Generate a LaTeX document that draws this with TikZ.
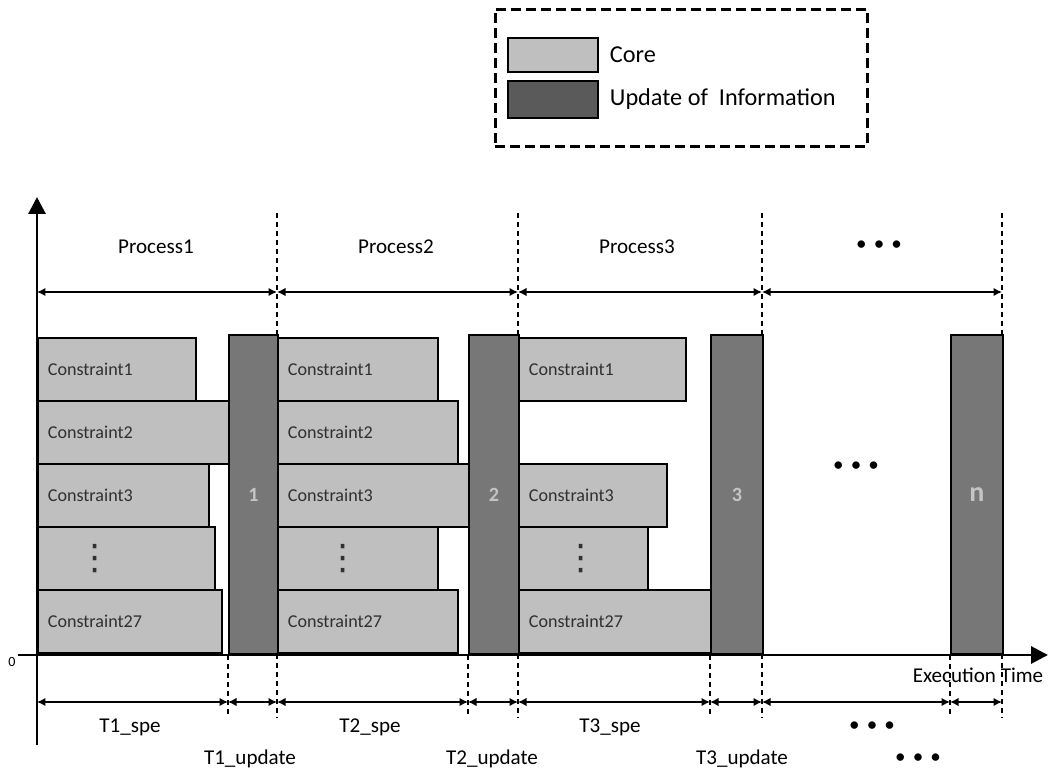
\documentclass[tikz,border=0pt]{standalone}
\usepackage{fontspec}
\setmainfont{Carlito}
\newfontfamily\symfont{DejaVu Sans}
\usepackage{xcolor}
\usetikzlibrary{positioning, arrows.meta}

\definecolor{coregray}{HTML}{BFBFBF}
\definecolor{updgray}{HTML}{777777}
\definecolor{keygray}{HTML}{5A5A5A}
\definecolor{numgray}{HTML}{C4C4C4}
\definecolor{txtgray}{HTML}{303030}

\newcommand{\rowdots}{{\symfont\fontsize{20}{20}\selectfont ⋮}}
\newcommand{\bulletdots}{\textbullet\hspace{4pt}\textbullet\hspace{4pt}\textbullet}

\tikzset{
  core/.style={draw, fill=coregray, line width=1pt, anchor=north west, inner xsep=0.2cm, inner ysep=0pt,
    minimum height=1.26cm, align=left, text width=#1, text=txtgray, font=\fontsize{10.3}{12}\selectfont},
  upd/.style={draw, fill=updgray, line width=1pt, anchor=south west, inner sep=0pt,
    minimum height=6.38cm, minimum width=#1, text=numgray, font=\bfseries\fontsize{11.5}{14}\selectfont},
  dim/.style={{Latex[length=0.17cm,width=0.17cm]}-{Latex[length=0.17cm,width=0.17cm]}, line width=0.9pt},
  sep/.style={dash pattern=on 0.11cm off 0.07cm, line width=0.9pt},
  lbl/.style={font=\fontsize{12}{14}\selectfont},
  axis/.style={line width=1.7pt, -{Triangle[length=0.34cm,width=0.34cm]}},
}

\begin{document}
\begin{tikzpicture}[x=0.02cm, y=-0.02cm]
    \useasboundingbox (0,0) rectangle (1048,776);

    % Legend
    \node[draw, line width=1.7pt, dash pattern=on 0.2cm off 0.1cm, anchor=north west, minimum width=7.44cm, minimum height=2.74cm] (legend) at (494,8) {};
    \node[draw, fill=coregray, line width=1pt, anchor=north west, minimum width=1.8cm, minimum height=0.68cm] (keycore) at (507,37) {};
    \node[draw, fill=keygray, line width=1pt, anchor=north west, minimum width=1.8cm, minimum height=0.74cm] (keyupd) at (507,80) {};
    \node[right=0.1cm of keycore, font=\fontsize{13.8}{16}\selectfont] (keycoretxt) {Core};
    \node[right=0.1cm of keyupd, font=\fontsize{13.8}{16}\selectfont] (keyupdtxt) {Update of~ Information};

    % Axis labels
    \node[lbl] (xlabel) at (978,675) {Execution Time};
    \node[font=\fontsize{8}{10}\selectfont] (zero) at (12,662) {0};

    % Separators
    \draw[sep] (277,213) -- (277,717);
    \draw[sep] (518,213) -- (518,717);
    \draw[sep] (762,213) -- (762,717);
    \draw[sep] (1002,213) -- (1002,717);
    \draw[sep] (228,655) -- (228,717);
    \draw[sep] (468,655) -- (468,717);
    \draw[sep] (710,655) -- (710,717);
    \draw[sep] (950,655) -- (950,717);

    % Process 1
    \node[core=2.76cm] (p1c1) at (37,337) {Constraint1};
    \node[core=3.42cm] (p1c2) at (37,400) {Constraint2};
    \node[core=3.02cm] (p1c3) at (37,463) {Constraint3};
    \node[core=3.14cm] (p1c4) at (37,526) {\hspace*{0.6cm}\rowdots};
    \node[core=3.28cm] (p1c5) at (37,589) {Constraint27};
    \node[upd=0.98cm] (u1) at (228,655) {1};

    % Process 2
    \node[core=2.80cm] (p2c1) at (277,337) {Constraint1};
    \node[core=3.20cm] (p2c2) at (277,400) {Constraint2};
    \node[core=3.42cm] (p2c3) at (277,463) {Constraint3};
    \node[core=2.80cm] (p2c4) at (277,526) {\hspace*{0.75cm}\rowdots};
    \node[core=3.20cm] (p2c5) at (277,589) {Constraint27};
    \node[upd=1cm] (u2) at (468,655) {2};

    % Process 3
    \node[core=2.94cm] (p3c1) at (518,337) {Constraint1};
    \node[core=2.56cm] (p3c3) at (518,463) {Constraint3};
    \node[core=2.18cm] (p3c4) at (518,526) {\hspace*{0.7cm}\rowdots};
    \node[core=3.44cm] (p3c5) at (518,589) {Constraint27};
    \node[upd=1.04cm] (u3) at (710,655) {3};

    % Process n
    \node[font=\fontsize{12}{14}\selectfont] (middots) at (856,467) {\bulletdots};
    \node[upd=1.04cm, font=\bfseries\fontsize{16}{18}\selectfont] (un) at (950,655) {n};

    % Axes
    \coordinate (origin) at (37,655);
    \coordinate (ytop) at (37,197);
    \coordinate (ybot) at (37,745);
    \coordinate (xleft) at (18,655);
    \coordinate (xend) at (1048,655);
    \draw[axis] (xleft) -- (xend);
    \draw[axis] (ybot) -- (ytop);

    % Process spans
    \coordinate (a0) at (37,292);
    \coordinate (a1) at (277,292);
    \coordinate (a2) at (518,292);
    \coordinate (a3) at (762,292);
    \coordinate (a4) at (1002,292);
    \draw[dim] (a0) -- (a1);
    \draw[dim] (a1) -- (a2);
    \draw[dim] (a2) -- (a3);
    \draw[dim] (a3) -- (a4);
    \node[lbl] (proc1) at (156,247) {Process1};
    \node[lbl] (proc2) at (396,247) {Process2};
    \node[lbl] (proc3) at (637,247) {Process3};
    \node[lbl] (procdots) at (879,246) {\bulletdots};

    % Time spans
    \coordinate (b0) at (37,702);
    \coordinate (b1) at (228,702);
    \coordinate (b2) at (277,702);
    \coordinate (b3) at (468,702);
    \coordinate (b4) at (518,702);
    \coordinate (b5) at (710,702);
    \coordinate (b6) at (762,702);
    \coordinate (b7) at (950,702);
    \coordinate (b8) at (1002,702);
    \draw[dim] (b0) -- (b1);
    \draw[dim] (b1) -- (b2);
    \draw[dim] (b2) -- (b3);
    \draw[dim] (b3) -- (b4);
    \draw[dim] (b4) -- (b5);
    \draw[dim] (b5) -- (b6);
    \draw[dim] (b6) -- (b7);
    \draw[dim] (b7) -- (b8);
    \node[lbl] (spe1) at (130,727) {T1\_spe};
    \node[lbl] (spe2) at (370,727) {T2\_spe};
    \node[lbl] (spe3) at (610,727) {T3\_spe};
    \node[lbl] (spedots) at (872,727) {\bulletdots};
    \node[lbl] (upd1) at (250,759) {T1\_update};
    \node[lbl] (upd2) at (492,759) {T2\_update};
    \node[lbl] (upd3) at (742,759) {T3\_update};
    \node[lbl] (upddots) at (918,759) {\bulletdots};
\end{tikzpicture}
\end{document}
